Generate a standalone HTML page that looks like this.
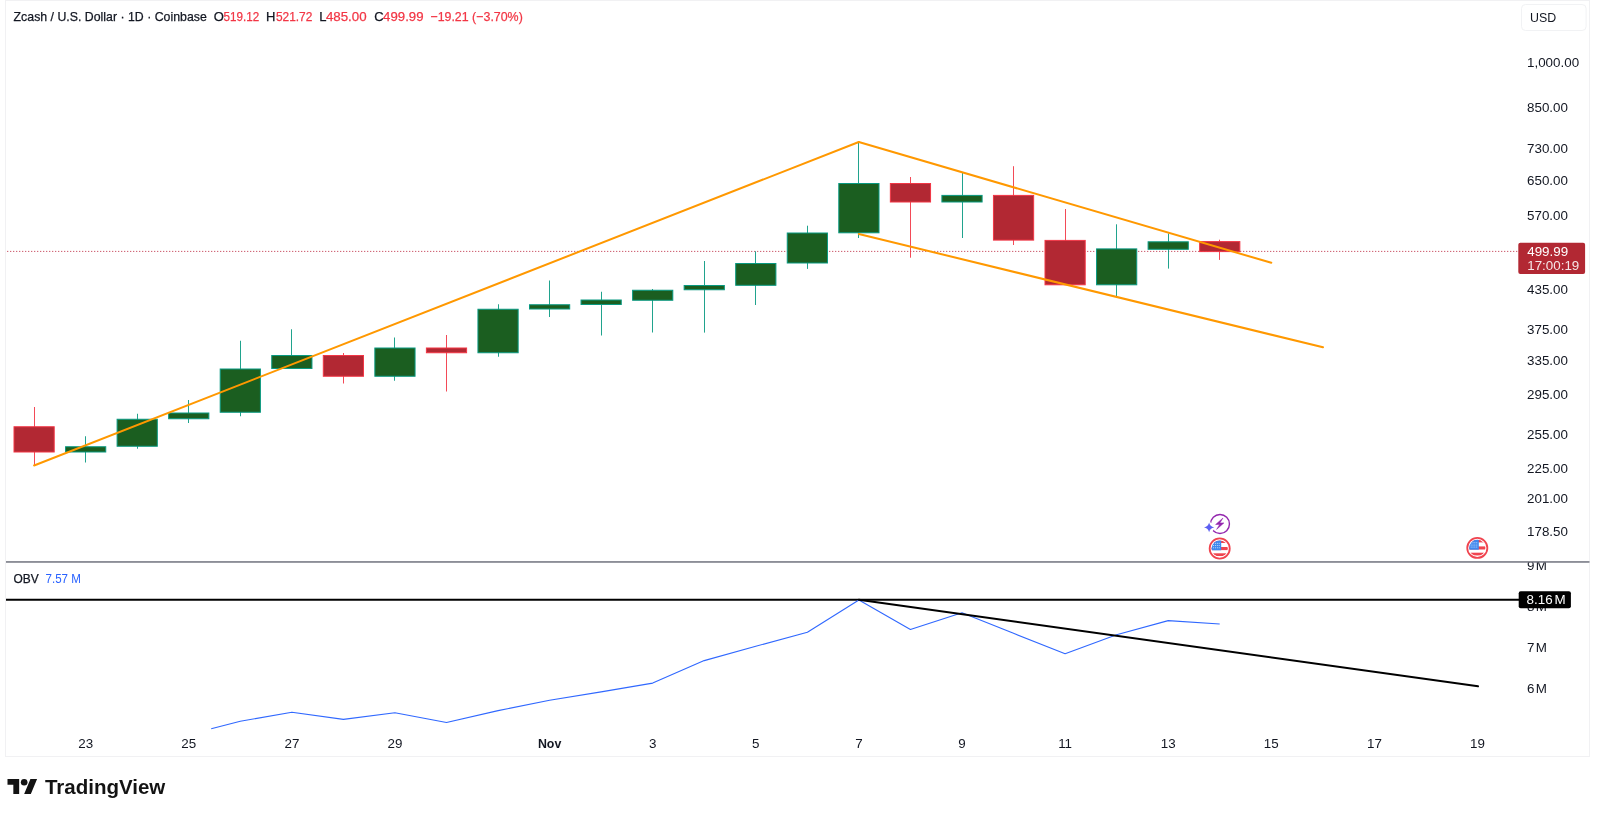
<!DOCTYPE html>
<html lang="en"><head><meta charset="utf-8"><title>ZECUSD chart</title>
<style>
html,body{margin:0;padding:0;background:#fff;}
body{width:1600px;height:817px;overflow:hidden;position:relative;font-family:"Liberation Sans",sans-serif;}
svg{position:absolute;left:0;top:0;display:block;will-change:transform;-webkit-font-smoothing:antialiased}
text{font-family:"Liberation Sans",sans-serif;}
.ax{font-size:13px;fill:#131722}
.hd{fill:#131722;stroke:#131722;stroke-width:0.25px}
.hd.rd{stroke:#f23645}
.rd{fill:#f23645}
</style></head><body>
<svg width="1600" height="817" viewBox="0 0 1600 817">
<rect x="0" y="0" width="1600" height="817" fill="#fff"/>
<!-- frame -->
<rect x="5.5" y="0.5" width="1584" height="756" fill="none" stroke="#f1f1f3" stroke-width="1"/>

<line x1="7" y1="251.4" x2="1518" y2="251.4" stroke="#c23c50" stroke-width="1" stroke-dasharray="1.3 1.7" opacity="0.85"/>
<g shape-rendering="auto">
<line x1="34.5" y1="407" x2="34.5" y2="465.5" stroke="#f23645" stroke-width="1.05" stroke-opacity="0.9"/>
<rect x="14.00" y="426.75" width="40.20" height="25.25" fill="#b22833" stroke="#f23645" stroke-width="1"/>
<line x1="85.5" y1="436.25" x2="85.5" y2="462.5" stroke="#089981" stroke-width="1.05" stroke-opacity="0.9"/>
<rect x="65.55" y="446.75" width="40.20" height="5.25" fill="#1b5e20" stroke="#089981" stroke-width="1"/>
<line x1="137.5" y1="413.75" x2="137.5" y2="448.75" stroke="#089981" stroke-width="1.05" stroke-opacity="0.9"/>
<rect x="117.10" y="419.25" width="40.20" height="27.00" fill="#1b5e20" stroke="#089981" stroke-width="1"/>
<line x1="188.5" y1="400" x2="188.5" y2="423" stroke="#089981" stroke-width="1.05" stroke-opacity="0.9"/>
<rect x="168.65" y="413.0" width="40.20" height="5.75" fill="#1b5e20" stroke="#089981" stroke-width="1"/>
<line x1="240.5" y1="340.75" x2="240.5" y2="416.25" stroke="#089981" stroke-width="1.05" stroke-opacity="0.9"/>
<rect x="220.20" y="369.0" width="40.20" height="43.25" fill="#1b5e20" stroke="#089981" stroke-width="1"/>
<line x1="291.5" y1="329.25" x2="291.5" y2="368.5" stroke="#089981" stroke-width="1.05" stroke-opacity="0.9"/>
<rect x="271.75" y="355.5" width="40.20" height="13.00" fill="#1b5e20" stroke="#089981" stroke-width="1"/>
<line x1="343.5" y1="353" x2="343.5" y2="383.5" stroke="#f23645" stroke-width="1.05" stroke-opacity="0.9"/>
<rect x="323.30" y="355.5" width="40.20" height="20.75" fill="#b22833" stroke="#f23645" stroke-width="1"/>
<line x1="394.5" y1="337.5" x2="394.5" y2="380.75" stroke="#089981" stroke-width="1.05" stroke-opacity="0.9"/>
<rect x="374.85" y="348.0" width="40.20" height="28.25" fill="#1b5e20" stroke="#089981" stroke-width="1"/>
<line x1="446.5" y1="335" x2="446.5" y2="391.5" stroke="#f23645" stroke-width="1.05" stroke-opacity="0.9"/>
<rect x="426.40" y="348.0" width="40.20" height="4.75" fill="#b22833" stroke="#f23645" stroke-width="1"/>
<line x1="498.5" y1="304.25" x2="498.5" y2="356.75" stroke="#089981" stroke-width="1.05" stroke-opacity="0.9"/>
<rect x="477.95" y="309.25" width="40.20" height="43.50" fill="#1b5e20" stroke="#089981" stroke-width="1"/>
<line x1="549.5" y1="280.5" x2="549.5" y2="317" stroke="#089981" stroke-width="1.05" stroke-opacity="0.9"/>
<rect x="529.50" y="304.75" width="40.20" height="4.25" fill="#1b5e20" stroke="#089981" stroke-width="1"/>
<line x1="601.5" y1="291.75" x2="601.5" y2="335.5" stroke="#089981" stroke-width="1.05" stroke-opacity="0.9"/>
<rect x="581.05" y="300.0" width="40.20" height="4.50" fill="#1b5e20" stroke="#089981" stroke-width="1"/>
<line x1="652.5" y1="289" x2="652.5" y2="332.5" stroke="#089981" stroke-width="1.05" stroke-opacity="0.9"/>
<rect x="632.60" y="290.25" width="40.20" height="10.00" fill="#1b5e20" stroke="#089981" stroke-width="1"/>
<line x1="704.5" y1="261" x2="704.5" y2="332.6" stroke="#089981" stroke-width="1.05" stroke-opacity="0.9"/>
<rect x="684.15" y="285.5" width="40.20" height="4.25" fill="#1b5e20" stroke="#089981" stroke-width="1"/>
<line x1="755.5" y1="251.3" x2="755.5" y2="305" stroke="#089981" stroke-width="1.05" stroke-opacity="0.9"/>
<rect x="735.70" y="263.5" width="40.20" height="21.80" fill="#1b5e20" stroke="#089981" stroke-width="1"/>
<line x1="807.5" y1="225.7" x2="807.5" y2="268.9" stroke="#089981" stroke-width="1.05" stroke-opacity="0.9"/>
<rect x="787.25" y="233.0" width="40.20" height="30.00" fill="#1b5e20" stroke="#089981" stroke-width="1"/>
<line x1="858.5" y1="142.9" x2="858.5" y2="238" stroke="#089981" stroke-width="1.05" stroke-opacity="0.9"/>
<rect x="838.80" y="183.5" width="40.20" height="49.30" fill="#1b5e20" stroke="#089981" stroke-width="1"/>
<line x1="910.5" y1="177" x2="910.5" y2="257.7" stroke="#f23645" stroke-width="1.05" stroke-opacity="0.9"/>
<rect x="890.35" y="183.5" width="40.20" height="18.50" fill="#b22833" stroke="#f23645" stroke-width="1"/>
<line x1="962.5" y1="172.9" x2="962.5" y2="238" stroke="#089981" stroke-width="1.05" stroke-opacity="0.9"/>
<rect x="941.90" y="195.4" width="40.20" height="6.60" fill="#1b5e20" stroke="#089981" stroke-width="1"/>
<line x1="1013.5" y1="166.2" x2="1013.5" y2="245" stroke="#f23645" stroke-width="1.05" stroke-opacity="0.9"/>
<rect x="993.45" y="195.4" width="40.20" height="44.70" fill="#b22833" stroke="#f23645" stroke-width="1"/>
<line x1="1065.5" y1="209" x2="1065.5" y2="284.8" stroke="#f23645" stroke-width="1.05" stroke-opacity="0.9"/>
<rect x="1045.00" y="240.4" width="40.20" height="44.40" fill="#b22833" stroke="#f23645" stroke-width="1"/>
<line x1="1116.5" y1="224.3" x2="1116.5" y2="296" stroke="#089981" stroke-width="1.05" stroke-opacity="0.9"/>
<rect x="1096.55" y="248.9" width="40.20" height="35.90" fill="#1b5e20" stroke="#089981" stroke-width="1"/>
<line x1="1168.5" y1="233.4" x2="1168.5" y2="268.6" stroke="#089981" stroke-width="1.05" stroke-opacity="0.9"/>
<rect x="1148.10" y="241.8" width="40.20" height="7.50" fill="#1b5e20" stroke="#089981" stroke-width="1"/>
<line x1="1219.5" y1="239.7" x2="1219.5" y2="259.9" stroke="#f23645" stroke-width="1.05" stroke-opacity="0.9"/>
<rect x="1199.65" y="241.6" width="40.20" height="10.00" fill="#b22833" stroke="#f23645" stroke-width="1"/>
</g>
<g stroke="#ff9800" stroke-width="2" stroke-linecap="round" fill="none">
<line x1="34.1" y1="465.5" x2="858.8" y2="142"/>
<line x1="858.8" y1="142" x2="1271.3" y2="262.8"/>
<line x1="858.8" y1="234" x2="1323" y2="347.3"/>
</g>
<rect x="6" y="561.2" width="1583.5" height="1.5" fill="#70737e"/>
<line x1="6" y1="599.8" x2="1519" y2="599.8" stroke="#000" stroke-width="2"/>
<polyline fill="none" stroke="#3068ff" stroke-width="1.1" stroke-linejoin="round" points="211.2,728.75 240.3,721.25 291.9,712.2 343.4,719.4 394.9,712.8 446.5,722.5 498.1,710.6 549.6,700.3 601.1,691.9 652.7,683.1 704.2,660.6 755.8,646.25 807.4,632.2 858.9,600 910.4,629.4 962.0,612.8 1013.5,633.3 1065.1,653.75 1116.6,634.7 1168.2,620.6 1219.7,624"/>
<line x1="858.8" y1="599.8" x2="1478" y2="686.25" stroke="#000" stroke-width="2" stroke-linecap="round"/>
<text transform="translate(1527.0 66.8) scale(1.08 1)" font-size="12.4" fill="#131722">1,000.00</text>
<text transform="translate(1527.0 111.9) scale(1.08 1)" font-size="12.4" fill="#131722">850.00</text>
<text transform="translate(1527.0 152.9) scale(1.08 1)" font-size="12.4" fill="#131722">730.00</text>
<text transform="translate(1527.0 184.8) scale(1.08 1)" font-size="12.4" fill="#131722">650.00</text>
<text transform="translate(1527.0 220.2) scale(1.08 1)" font-size="12.4" fill="#131722">570.00</text>
<text transform="translate(1527.0 294.1) scale(1.08 1)" font-size="12.4" fill="#131722">435.00</text>
<text transform="translate(1527.0 334.2) scale(1.08 1)" font-size="12.4" fill="#131722">375.00</text>
<text transform="translate(1527.0 365.1) scale(1.08 1)" font-size="12.4" fill="#131722">335.00</text>
<text transform="translate(1527.0 399.4) scale(1.08 1)" font-size="12.4" fill="#131722">295.00</text>
<text transform="translate(1527.0 439.1) scale(1.08 1)" font-size="12.4" fill="#131722">255.00</text>
<text transform="translate(1527.0 472.8) scale(1.08 1)" font-size="12.4" fill="#131722">225.00</text>
<text transform="translate(1527.0 503.4) scale(1.08 1)" font-size="12.4" fill="#131722">201.00</text>
<text transform="translate(1527.0 535.8) scale(1.08 1)" font-size="12.4" fill="#131722">178.50</text>
<clipPath id="c9"><rect x="1500" y="562.5" width="90" height="30"/></clipPath>
<g clip-path="url(#c9)">
<text transform="translate(1527.0 569.7) scale(1.08 1)" font-size="12.4" fill="#131722">9 <tspan dx="-2.2">M</tspan></text>
</g>
<text transform="translate(1527.0 610.9) scale(1.08 1)" font-size="12.4" fill="#131722">8 <tspan dx="-2.2">M</tspan></text>
<text transform="translate(1527.0 651.9) scale(1.08 1)" font-size="12.4" fill="#131722">7 <tspan dx="-2.2">M</tspan></text>
<text transform="translate(1527.0 692.8) scale(1.08 1)" font-size="12.4" fill="#131722">6 <tspan dx="-2.2">M</tspan></text>
<rect x="1518.7" y="591.3" width="52.2" height="17" rx="2" fill="#000"/>
<text transform="translate(1526.6 604.2) scale(1.08 1)" font-size="12.4" fill="#fff">8.16 <tspan dx="-1.6">M</tspan></text>
<rect x="1518.3" y="242.8" width="66.8" height="31.1" rx="2" fill="#b22833"/>
<text transform="translate(1527.2 255.6) scale(1.08 1)" font-size="12.4" fill="#fff">499.99</text>
<text transform="translate(1527.2 269.7) scale(1.08 1)" font-size="12.4" fill="#fff" opacity="0.88">17:00:19</text>
<text transform="translate(85.7 748.1) scale(1.08 1)" font-size="12.4" fill="#131722" text-anchor="middle">23</text>
<text transform="translate(188.7 748.1) scale(1.08 1)" font-size="12.4" fill="#131722" text-anchor="middle">25</text>
<text transform="translate(291.9 748.1) scale(1.08 1)" font-size="12.4" fill="#131722" text-anchor="middle">27</text>
<text transform="translate(394.9 748.1) scale(1.08 1)" font-size="12.4" fill="#131722" text-anchor="middle">29</text>
<text transform="translate(549.6 748.1) scale(1.0 1)" font-size="12.4" fill="#131722" text-anchor="middle" font-weight="700">Nov</text>
<text transform="translate(652.7 748.1) scale(1.08 1)" font-size="12.4" fill="#131722" text-anchor="middle">3</text>
<text transform="translate(755.8 748.1) scale(1.08 1)" font-size="12.4" fill="#131722" text-anchor="middle">5</text>
<text transform="translate(858.9 748.1) scale(1.08 1)" font-size="12.4" fill="#131722" text-anchor="middle">7</text>
<text transform="translate(962.0 748.1) scale(1.08 1)" font-size="12.4" fill="#131722" text-anchor="middle">9</text>
<text transform="translate(1065.1 748.1) scale(1.08 1)" font-size="12.4" fill="#131722" text-anchor="middle">11</text>
<text transform="translate(1168.2 748.1) scale(1.08 1)" font-size="12.4" fill="#131722" text-anchor="middle">13</text>
<text transform="translate(1271.3 748.1) scale(1.08 1)" font-size="12.4" fill="#131722" text-anchor="middle">15</text>
<text transform="translate(1374.4 748.1) scale(1.08 1)" font-size="12.4" fill="#131722" text-anchor="middle">17</text>
<text transform="translate(1477.5 748.1) scale(1.08 1)" font-size="12.4" fill="#131722" text-anchor="middle">19</text>
<rect x="1521.5" y="4.5" width="64.6" height="26" rx="4" fill="#fff" stroke="#f1f2f4"/>
<text transform="translate(1530.1 21.6) scale(1.0 1)" font-size="12.4" fill="#131722">USD</text>
<text class="hd" x="13.6" y="21" font-size="12.6" textLength="193.2" lengthAdjust="spacingAndGlyphs">Zcash / U.S. Dollar · 1D · Coinbase</text>
<text class="hd" x="213.8" y="21" font-size="13">O</text>
<text class="hd rd" x="223.5" y="21" font-size="13" textLength="35.7" lengthAdjust="spacingAndGlyphs">519.12</text>
<text class="hd" x="266.0" y="21" font-size="13">H</text>
<text class="hd rd" x="275.9" y="21" font-size="13" textLength="36.5" lengthAdjust="spacingAndGlyphs">521.72</text>
<text class="hd" x="319.2" y="21" font-size="13">L</text>
<text class="hd rd" x="325.9" y="21" font-size="13" textLength="40.7" lengthAdjust="spacingAndGlyphs">485.00</text>
<text class="hd" x="374.2" y="21" font-size="13">C</text>
<text class="hd rd" x="383.1" y="21" font-size="13" textLength="40.4" lengthAdjust="spacingAndGlyphs">499.99</text>
<text class="hd rd" x="430.4" y="21" font-size="13" textLength="92.4" lengthAdjust="spacingAndGlyphs">−19.21 (−3.70%)</text>
<text class="hd" x="13.5" y="583" font-size="12.4" textLength="25.2" lengthAdjust="spacingAndGlyphs">OBV</text>
<text x="45.5" y="583" font-size="12.6" style="fill:#2962ff" textLength="35.4" lengthAdjust="spacingAndGlyphs">7.57 M</text>
<g id="bolt">
<circle cx="1220" cy="524" r="9.45" fill="none" stroke="#9326ae" stroke-width="1.4"/>
<circle cx="1209.1" cy="527.4" r="5.1" fill="#fff"/>
<path d="M1209.1 522.6 Q1209.9 526.6 1214.2 527.4 Q1209.9 528.2 1209.1 532.2 Q1208.3 528.2 1204 527.4 Q1208.3 526.6 1209.1 522.6Z" fill="#5c5ff2"/>
<path d="M1223.0 518.0 L1215.6 524.5 L1219.6 524.5 L1216.6 529.4 L1223.9 522.9 L1219.9 522.9 Z" fill="#9326ae" stroke="#9326ae" stroke-width="0.5" stroke-linejoin="round"/>
</g>
<g>
<circle cx="1219.7" cy="548.5" r="10.05" fill="#fff" stroke="#f0444f" stroke-width="1.8"/>
<clipPath id="f1"><circle cx="1219.7" cy="548.5" r="8.1"/></clipPath>
<g clip-path="url(#f1)">
<rect x="1210.7" y="539.5" width="18" height="18" fill="#fff"/>
<rect x="1210.7" y="540.3" width="18" height="2.7" fill="#f0444f"/>
<rect x="1210.7" y="547.0" width="18" height="3.1" fill="#f0444f"/>
<rect x="1210.7" y="553.3" width="18" height="2.8" fill="#f0444f"/>
<rect x="1210.7" y="539.5" width="10.5" height="10.8" fill="#3f88ee"/>
<circle cx="1213.5" cy="543.3" r="0.5" fill="#fff" opacity="0.85"/><circle cx="1215.4" cy="543.3" r="0.5" fill="#fff" opacity="0.85"/><circle cx="1217.3" cy="543.3" r="0.5" fill="#fff" opacity="0.85"/><circle cx="1219.2" cy="543.3" r="0.5" fill="#fff" opacity="0.85"/><circle cx="1213.5" cy="545.5" r="0.5" fill="#fff" opacity="0.85"/><circle cx="1215.4" cy="545.5" r="0.5" fill="#fff" opacity="0.85"/><circle cx="1217.3" cy="545.5" r="0.5" fill="#fff" opacity="0.85"/><circle cx="1219.2" cy="545.5" r="0.5" fill="#fff" opacity="0.85"/><circle cx="1213.5" cy="547.7" r="0.5" fill="#fff" opacity="0.85"/><circle cx="1215.4" cy="547.7" r="0.5" fill="#fff" opacity="0.85"/><circle cx="1217.3" cy="547.7" r="0.5" fill="#fff" opacity="0.85"/><circle cx="1219.2" cy="547.7" r="0.5" fill="#fff" opacity="0.85"/>
</g></g>
<g>
<circle cx="1477.3" cy="547.9" r="10.05" fill="#fff" stroke="#f0444f" stroke-width="1.8"/>
<clipPath id="f2"><circle cx="1477.3" cy="547.9" r="8.1"/></clipPath>
<g clip-path="url(#f2)">
<rect x="1468.3" y="538.9" width="18" height="18" fill="#fff"/>
<rect x="1468.3" y="539.6999999999999" width="18" height="2.7" fill="#f0444f"/>
<rect x="1468.3" y="546.4" width="18" height="3.1" fill="#f0444f"/>
<rect x="1468.3" y="552.6999999999999" width="18" height="2.8" fill="#f0444f"/>
<rect x="1468.3" y="538.9" width="10.5" height="10.8" fill="#3f88ee"/>
<circle cx="1471.1" cy="542.7" r="0.5" fill="#fff" opacity="0.85"/><circle cx="1473.0" cy="542.7" r="0.5" fill="#fff" opacity="0.85"/><circle cx="1474.9" cy="542.7" r="0.5" fill="#fff" opacity="0.85"/><circle cx="1476.8" cy="542.7" r="0.5" fill="#fff" opacity="0.85"/><circle cx="1471.1" cy="544.9" r="0.5" fill="#fff" opacity="0.85"/><circle cx="1473.0" cy="544.9" r="0.5" fill="#fff" opacity="0.85"/><circle cx="1474.9" cy="544.9" r="0.5" fill="#fff" opacity="0.85"/><circle cx="1476.8" cy="544.9" r="0.5" fill="#fff" opacity="0.85"/><circle cx="1471.1" cy="547.1" r="0.5" fill="#fff" opacity="0.85"/><circle cx="1473.0" cy="547.1" r="0.5" fill="#fff" opacity="0.85"/><circle cx="1474.9" cy="547.1" r="0.5" fill="#fff" opacity="0.85"/><circle cx="1476.8" cy="547.1" r="0.5" fill="#fff" opacity="0.85"/>
</g></g>
<g transform="translate(7.5,775.6) scale(0.8333)" fill="#131313">
<path d="M14 22H7V11H0V4h14v18zM28 22h-8l7.5-18h8L28 22z"/><circle cx="20" cy="8" r="4"/></g>
<text x="44.9" y="793.9" font-size="20.5" font-weight="700" fill="#131313">TradingView</text>
</svg></body></html>
